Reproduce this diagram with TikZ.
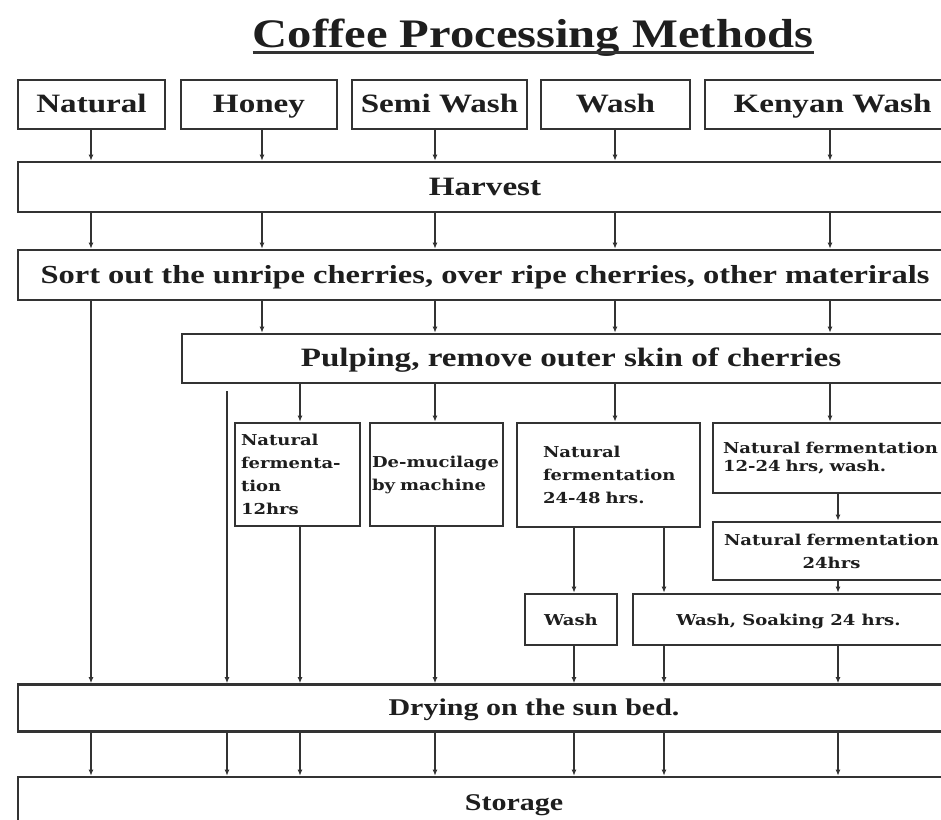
\documentclass[tikz,border=0pt]{standalone}
\usepackage{fontspec}
\setmainfont{Liberation Serif}
\newfontfamily\wideserif[FakeStretch=1.25]{Liberation Serif}
\newfontfamily\titleserif[FakeStretch=1.2]{Liberation Serif}
\newfontfamily\smallserif[FakeStretch=1.2]{DejaVu Serif}
\usetikzlibrary{arrows.meta,calc}
\definecolor{ink}{HTML}{1E1E1E}
\definecolor{edge}{HTML}{333333}
\begin{document}
\begin{tikzpicture}[x=1pt,y=-1pt,
  box/.style={draw=edge,line width=2.6pt,rectangle,inner sep=0pt,text=ink,
    font=\wideserif\bfseries\fontsize{26.5}{26.5}\selectfont,text height=20pt,text depth=4pt},
  lowbox/.style={box,font=\wideserif\bfseries\fontsize{24}{24}\selectfont,text height=18pt,text depth=4pt},
  smallbox/.style={draw=edge,line width=2.6pt,rectangle,inner sep=0pt,text=ink,
    font=\smallserif\bfseries\fontsize{15}{23}\selectfont},
  arr/.style={draw=edge,line width=1.5pt,-{Latex[length=6pt,width=5pt]}}]
\useasboundingbox (0,0) rectangle (941,819);
\clip (0,0) rectangle (941,819);
\fill[white] (0,0) rectangle (941,819);

% title
\node[anchor=base,inner sep=0pt,text=ink,font=\titleserif\bfseries\fontsize{40.5}{40.5}\selectfont] (title) at (533,47) {Coffee Processing Methods};
\draw[edge,line width=3pt] ($(title.base west)+(0,5)$) -- ($(title.base east)+(0,5)$);

% column coordinates
\coordinate (X1) at (91,0);
\coordinate (X2) at (262,0);
\coordinate (X3) at (435,0);
\coordinate (X4) at (615,0);
\coordinate (X5) at (830,0);
\coordinate (Y1) at (227,0);
\coordinate (Y2) at (300,0);
\coordinate (Y3) at (574,0);
\coordinate (Y4) at (664,0);
\coordinate (Y5) at (838,0);

% top methods
\node[box,minimum width=147pt,minimum height=49pt] (nat)  at (91.5,104.5) {Natural};
\node[box,minimum width=156pt,minimum height=49pt] (hon)  at (259,104.5) {Honey};
\node[box,minimum width=175pt,minimum height=49pt] (semi) at (439.5,104.5) {Semi Wash};
\node[box,minimum width=149pt,minimum height=49pt] (wash) at (615.5,104.5) {Wash};
\node[box,minimum width=255pt,minimum height=49pt] (ken)  at (832.5,104.5) {Kenyan Wash};

% stages
\node[box,minimum width=934pt,minimum height=50pt] (harvest) at (485,187) {Harvest};
\node[box,minimum width=934pt,minimum height=50pt,font=\wideserif\bfseries\fontsize{26}{26}\selectfont] (sort) at (485,275) {Sort out the unripe cherries, over ripe cherries, other materirals};
\node[box,minimum width=778pt,minimum height=49pt] (pulp) at (571,358.5) {Pulping, remove outer skin of cherries};

% branch boxes
\node[smallbox,minimum width=125pt,minimum height=103pt,text width=113pt,align=left] (nf12) at (297.5,474.5) {Natural\\fermenta-\\tion\\12hrs};
\node[smallbox,minimum width=133pt,minimum height=103pt,text width=129pt,align=left] (demu) at (436.5,474.5) {De-mucilage\\by machine};
\node[smallbox,minimum width=183pt,minimum height=104pt,text width=131pt,align=left] (nf48) at (608.5,475) {Natural\\fermentation\\24-48 hrs.};
\node[smallbox,minimum width=247pt,minimum height=70pt,text width=227pt,align=left,font=\smallserif\bfseries\fontsize{15}{18}\selectfont] (kf1) at (836.5,458) {Natural fermentation\\12-24 hrs, wash.};
\node[smallbox,minimum width=237pt,minimum height=58pt,text width=237pt,align=center] (kf2) at (831.5,551) {Natural fermentation\\24hrs};
\node[smallbox,minimum width=92pt,minimum height=51pt,text height=13pt,text depth=1pt] (wsh) at (571,619.5) {Wash};
\node[smallbox,minimum width=311pt,minimum height=51pt,text height=13pt,text depth=1pt] (soak) at (788.5,619.5) {Wash, Soaking 24 hrs.};

% final stages
\node[lowbox,minimum width=1032pt,minimum height=47pt] (dry) at (534,708) {Drying on the sun bed.};
\node[lowbox,minimum width=992pt,minimum height=52pt] (store) at (514,803) {Storage};

% methods -> harvest
\draw[arr] (X1 |- nat.south) -- (X1 |- harvest.north);
\draw[arr] (X2 |- hon.south) -- (X2 |- harvest.north);
\draw[arr] (X3 |- semi.south) -- (X3 |- harvest.north);
\draw[arr] (X4 |- wash.south) -- (X4 |- harvest.north);
\draw[arr] (X5 |- ken.south) -- (X5 |- harvest.north);

% harvest -> sort
\draw[arr] (X1 |- harvest.south) -- (X1 |- sort.north);
\draw[arr] (X2 |- harvest.south) -- (X2 |- sort.north);
\draw[arr] (X3 |- harvest.south) -- (X3 |- sort.north);
\draw[arr] (X4 |- harvest.south) -- (X4 |- sort.north);
\draw[arr] (X5 |- harvest.south) -- (X5 |- sort.north);

% sort -> pulp / dry
\draw[arr] (X1 |- sort.south) -- (X1 |- dry.north);
\draw[arr] (X2 |- sort.south) -- (X2 |- pulp.north);
\draw[arr] (X3 |- sort.south) -- (X3 |- pulp.north);
\draw[arr] (X4 |- sort.south) -- (X4 |- pulp.north);
\draw[arr] (X5 |- sort.south) -- (X5 |- pulp.north);

% pulp -> branches
\draw[arr] ($(Y1 |- pulp.south)+(0,7)$) -- (Y1 |- dry.north);
\draw[arr] (Y2 |- pulp.south) -- (Y2 |- nf12.north);
\draw[arr] (X3 |- pulp.south) -- (X3 |- demu.north);
\draw[arr] (X4 |- pulp.south) -- (X4 |- nf48.north);
\draw[arr] (X5 |- pulp.south) -- (X5 |- kf1.north);

% kenyan chain
\draw[arr] (Y5 |- kf1.south) -- (Y5 |- kf2.north);
\draw[arr] (Y5 |- kf2.south) -- (Y5 |- soak.north);

% wash chain
\draw[arr] (Y3 |- nf48.south) -- (Y3 |- wsh.north);
\draw[arr] (Y4 |- nf48.south) -- (Y4 |- soak.north);

% to drying
\draw[arr] (Y2 |- nf12.south) -- (Y2 |- dry.north);
\draw[arr] (X3 |- demu.south) -- (X3 |- dry.north);
\draw[arr] (Y3 |- wsh.south) -- (Y3 |- dry.north);
\draw[arr] (Y4 |- soak.south) -- (Y4 |- dry.north);
\draw[arr] (Y5 |- soak.south) -- (Y5 |- dry.north);

% drying -> storage
\draw[arr] (X1 |- dry.south) -- (X1 |- store.north);
\draw[arr] (Y1 |- dry.south) -- (Y1 |- store.north);
\draw[arr] (Y2 |- dry.south) -- (Y2 |- store.north);
\draw[arr] (X3 |- dry.south) -- (X3 |- store.north);
\draw[arr] (Y3 |- dry.south) -- (Y3 |- store.north);
\draw[arr] (Y4 |- dry.south) -- (Y4 |- store.north);
\draw[arr] (Y5 |- dry.south) -- (Y5 |- store.north);
\end{tikzpicture}
\end{document}
